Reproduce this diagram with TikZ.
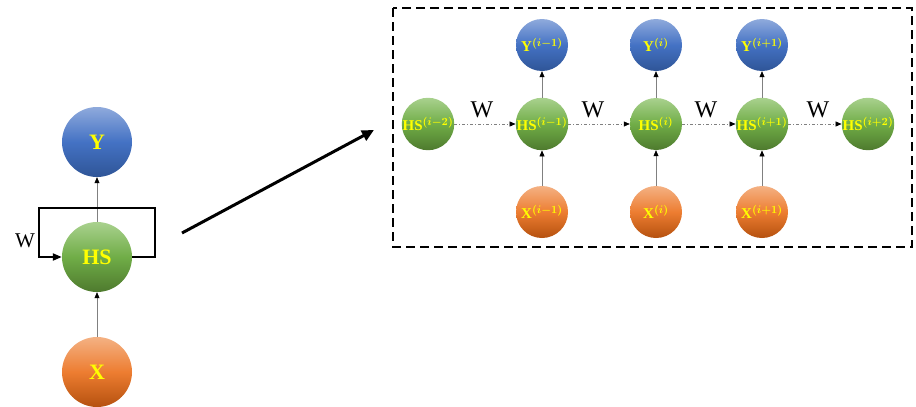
\documentclass[tikz,border=0pt]{standalone}
\usepackage{fontspec}
\usepackage{bm}
\setmainfont{Liberation Serif}
\usetikzlibrary{arrows.meta}
\definecolor{bluetop}{HTML}{8FAADC}
\definecolor{bluemid}{HTML}{4472C4}
\definecolor{bluebot}{HTML}{2F5597}
\definecolor{greentop}{HTML}{A9D18E}
\definecolor{greenmid}{HTML}{70AD47}
\definecolor{greenbot}{HTML}{4E7A2E}
\definecolor{orangetop}{HTML}{F4B183}
\definecolor{orangemid}{HTML}{ED7D31}
\definecolor{orangebot}{HTML}{B5510F}
\definecolor{txtyellow}{HTML}{FFFF00}
\tikzset{
  ball/.style={circle, inner sep=0pt, text=txtyellow, font=\bfseries},
  bigball/.style={ball, minimum size=70pt, font=\bfseries\fontsize{22}{24}\selectfont},
  smallball/.style={ball, minimum size=52pt, font=\bfseries\fontsize{15}{17}\selectfont},
  bluefill/.style={top color=bluetop, bottom color=bluebot, middle color=bluemid},
  greenfill/.style={top color=greentop, bottom color=greenbot, middle color=greenmid},
  orangefill/.style={top color=orangetop, bottom color=orangebot, middle color=orangemid},
  thinarrow/.style={draw=gray, line width=0.6pt, -{Triangle[length=6pt,width=5pt,color=black]}},
  dotarrow/.style={draw=gray, line width=0.6pt, dash pattern=on 3pt off 2pt on 1pt off 2pt, -{Triangle[length=6pt,width=5pt,color=black]}},
  wlabel/.style={font=\fontsize{21}{23}\selectfont, inner sep=0pt},
  wlabelb/.style={font=\fontsize{24}{26}\selectfont, inner sep=0pt},
}
\begin{document}
\begin{tikzpicture}[x=1pt,y=-1pt]
\useasboundingbox (0,0) rectangle (916,407);
% left
\node[bigball, bluefill] (Y) at (97,142) {Y};
\node[bigball, greenfill] (HS) at (97,257) {HS};
\node[bigball, orangefill] (X) at (97,372) {X};
\draw[thinarrow] (HS.north) -- (Y.south);
\draw[thinarrow] (X.north) -- (HS.south);
\coordinate (l1) at (155,257);
\coordinate (l2) at (155,208);
\coordinate (l3) at (39,208);
\coordinate (l4) at (39,257);
\draw[line width=2pt, line join=miter, -{Triangle[length=9pt,width=7pt]}] (HS.east) -- (l1) -- (l2) -- (l3) -- (l4) -- (HS.west);
\node[wlabel] (W0) at (25,241) {W};
% big arrow
\coordinate (a1) at (182,233);
\coordinate (a2) at (374,130);
\draw[line width=3pt, -{Triangle[length=12pt,width=11pt]}] (a1) -- (a2);
% dashed box
\coordinate (b1) at (393,8);
\coordinate (b2) at (912,247);
\draw[line width=1.6pt, dash pattern=on 9pt off 5pt] (b1) rectangle (b2);
% right
\node[smallball, greenfill] (H0) at (428,124) {HS$^{\bm{(i-2)}}$};
\node[smallball, greenfill] (H1) at (542,124) {HS$^{\bm{(i-1)}}$};
\node[smallball, greenfill] (H2) at (656,124) {HS$^{\bm{(i)}}$};
\node[smallball, greenfill] (H3) at (762,124) {HS$^{\bm{(i+1)}}$};
\node[smallball, greenfill] (H4) at (868,124) {HS$^{\bm{(i+2)}}$};
\node[smallball, bluefill] (Y1) at (542,45) {Y$^{\bm{(i-1)}}$};
\node[smallball, bluefill] (Y2) at (656,45) {Y$^{\bm{(i)}}$};
\node[smallball, bluefill] (Y3) at (762,45) {Y$^{\bm{(i+1)}}$};
\node[smallball, orangefill] (X1) at (542,212) {X$^{\bm{(i-1)}}$};
\node[smallball, orangefill] (X2) at (656,212) {X$^{\bm{(i)}}$};
\node[smallball, orangefill] (X3) at (762,212) {X$^{\bm{(i+1)}}$};
\foreach \i in {1,2,3}{
  \draw[thinarrow] (H\i.north) -- (Y\i.south);
  \draw[thinarrow] (X\i.north) -- (H\i.south);
}
\draw[dotarrow] (H0.east) -- (H1.west);
\draw[dotarrow] (H1.east) -- (H2.west);
\draw[dotarrow] (H2.east) -- (H3.west);
\draw[dotarrow] (H3.east) -- (H4.west);
\node[wlabelb] (W1) at (482,110) {W};
\node[wlabelb] (W2) at (593,110) {W};
\node[wlabelb] (W3) at (706,110) {W};
\node[wlabelb] (W4) at (818,110) {W};
\end{tikzpicture}
\end{document}
